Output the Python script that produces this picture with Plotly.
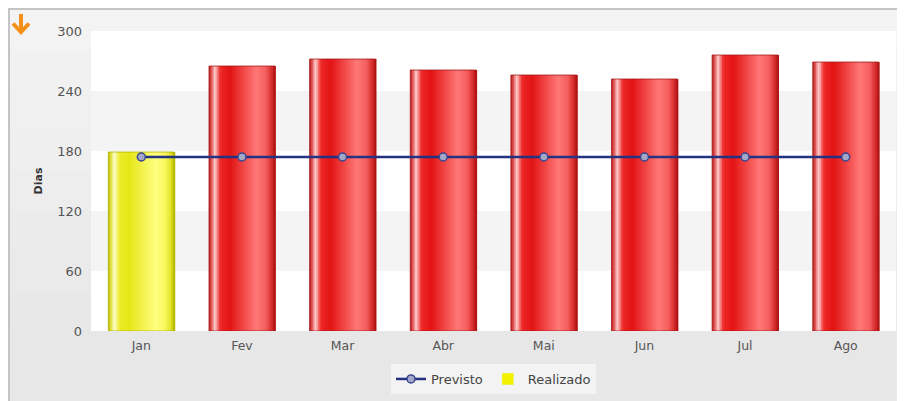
import plotly.graph_objects as go

# ---- data ----
months = ["Jan", "Fev", "Mar", "Abr", "Mai", "Jun", "Jul", "Ago"]
realizado = [179, 265, 272, 261, 256, 252, 276, 269]
previsto = [174, 174, 174, 174, 174, 174, 174, 174]
status = ["amarelo", "vermelho", "vermelho", "vermelho", "vermelho", "vermelho", "vermelho", "vermelho"]
y_ticks = [0, 60, 120, 180, 240, 300]

# ---- styles ----
OFF = 8  # page body margin
W, H = 905 - OFF, 401 - OFF
L, T = 91 - OFF, 31 - OFF
pw, ph = 805, 300
R = W - L - pw
B = H - T - ph

def px_x(p):
    return (p - OFF - L) / pw

def px_y(p):
    return (H - B - (p - OFF)) / ph

gradients = {
    "vermelho": [(0.0, (185, 25, 25)), (0.04, (225, 90, 90)), (0.09, (255, 205, 205)),
                 (0.17, (238, 40, 40)), (0.32, (226, 20, 20)), (0.72, (255, 120, 120)),
                 (0.86, (245, 95, 95)), (0.95, (215, 45, 45)), (1.0, (180, 20, 20))],
    "amarelo": [(0.0, (190, 190, 0)), (0.04, (225, 225, 60)), (0.09, (252, 252, 210)),
                (0.17, (235, 235, 40)), (0.32, (230, 230, 25)), (0.72, (255, 255, 130)),
                (0.86, (248, 248, 95)), (0.95, (225, 225, 40)), (1.0, (185, 185, 0))],
}
outline = {"vermelho": "rgba(160,20,20,0.75)", "amarelo": "rgba(175,175,0,0.8)"}

def grad_color(stops, t):
    for (t0, c0), (t1, c1) in zip(stops, stops[1:]):
        if t0 <= t <= t1:
            f = (t - t0) / (t1 - t0) if t1 > t0 else 0
            c = [round(a + (b - a) * f) for a, b in zip(c0, c1)]
            return f"rgb({c[0]},{c[1]},{c[2]})"
    c = stops[-1][1]
    return f"rgb({c[0]},{c[1]},{c[2]})"

bar_w = 0.655
N = 40
sw = bar_w / N

fig = go.Figure()

fig.add_trace(go.Scatter(
    x=months, y=previsto, name="Previsto", mode="lines+markers",
    line=dict(color="#243282", width=2.5),
    marker=dict(size=8, color="#a2a8c8", line=dict(color="#3a4590", width=1.5)),
))

fig.add_trace(go.Bar(
    x=[months[0]], y=[None], name="Realizado",
    marker=dict(color="#f2f200"), showlegend=True,
))

for i in range(N):
    t = (i + 0.5) / N
    fig.add_trace(go.Bar(
        x=months, y=realizado,
        width=sw * 1.6, offset=-bar_w / 2 + i * sw,
        marker=dict(color=[grad_color(gradients[s], t) for s in status], line=dict(width=0)),
        showlegend=False, hoverinfo="skip",
    ))

fig.add_trace(go.Bar(
    x=months, y=realizado, width=bar_w, offset=-bar_w / 2,
    marker=dict(color="rgba(0,0,0,0)", line=dict(color=[outline[s] for s in status], width=1)),
    showlegend=False, name="Realizado",
))

shapes = []
# outer frame
shapes.append(dict(type="rect", xref="paper", yref="paper", layer="below",
                   x0=px_x(9), x1=px_x(W + OFF + 5), y0=px_y(H + OFF + 5), y1=px_y(9),
                   fillcolor="#e7e7e7", line=dict(color="#c4c4c4", width=2)))
# subtle gradient on frame
for k in range(8):
    shapes.append(dict(type="rect", xref="paper", yref="paper", layer="below",
                       x0=px_x(10), x1=px_x(W + OFF + 5), y0=px_y(10 + 40 * (k + 1)), y1=px_y(10 + 40 * k),
                       fillcolor=f"rgba(255,255,255,{0.5 - k * 0.06:.2f})", line=dict(width=0)))
# white plot area
shapes.append(dict(type="rect", xref="paper", yref="paper", layer="below",
                   x0=0, x1=1, y0=0, y1=1, fillcolor="#ffffff", line=dict(width=0)))
# alternating bands
for lo, hi in [(60, 120), (180, 240)]:
    shapes.append(dict(type="rect", xref="paper", yref="y", layer="below",
                       x0=0, x1=1, y0=lo, y1=hi, fillcolor="#f4f4f4", line=dict(width=0)))
# orange down arrow icon
ax_, a_top, a_bot, a_arm = px_x(21), px_y(14), px_y(32), px_y(23.5)
axl, axr = px_x(13), px_x(29)
shapes.append(dict(type="path", xref="paper", yref="paper", layer="above",
                   path=f"M {ax_},{a_top} L {ax_},{a_bot} M {axl},{a_arm} L {ax_},{a_bot} L {axr},{a_arm}",
                   line=dict(color="#f39019", width=4)))

fig.update_layout(
    width=W, height=H,
    margin=dict(l=L, r=R, t=T, b=B, autoexpand=False),
    paper_bgcolor="#f8f8f8", plot_bgcolor="#ffffff",
    barmode="overlay",
    font=dict(family="DejaVu Sans", size=12, color="#555555"),
    shapes=shapes,
    showlegend=True,
    legend=dict(orientation="h", x=0.5, xanchor="center", y=px_y(364), yanchor="top",
                bgcolor="#f3f3f3", font=dict(size=13, color="#444444"),
                traceorder="normal", itemwidth=30),
)
fig.update_xaxes(showgrid=False, zeroline=False, showline=False, ticks="",
                 ticklabelstandoff=5, tickfont=dict(size=12.5, color="#555555"))
fig.update_yaxes(range=[0, 300], tickvals=y_ticks, showgrid=False, zeroline=False,
                 showline=False, ticks="", ticklabelstandoff=8,
                 tickfont=dict(size=13, color="#555555"),
                 title=dict(text="<b>Dias</b>", font=dict(size=11, color="#333333"), standoff=12))

fig.write_html("out.html")
